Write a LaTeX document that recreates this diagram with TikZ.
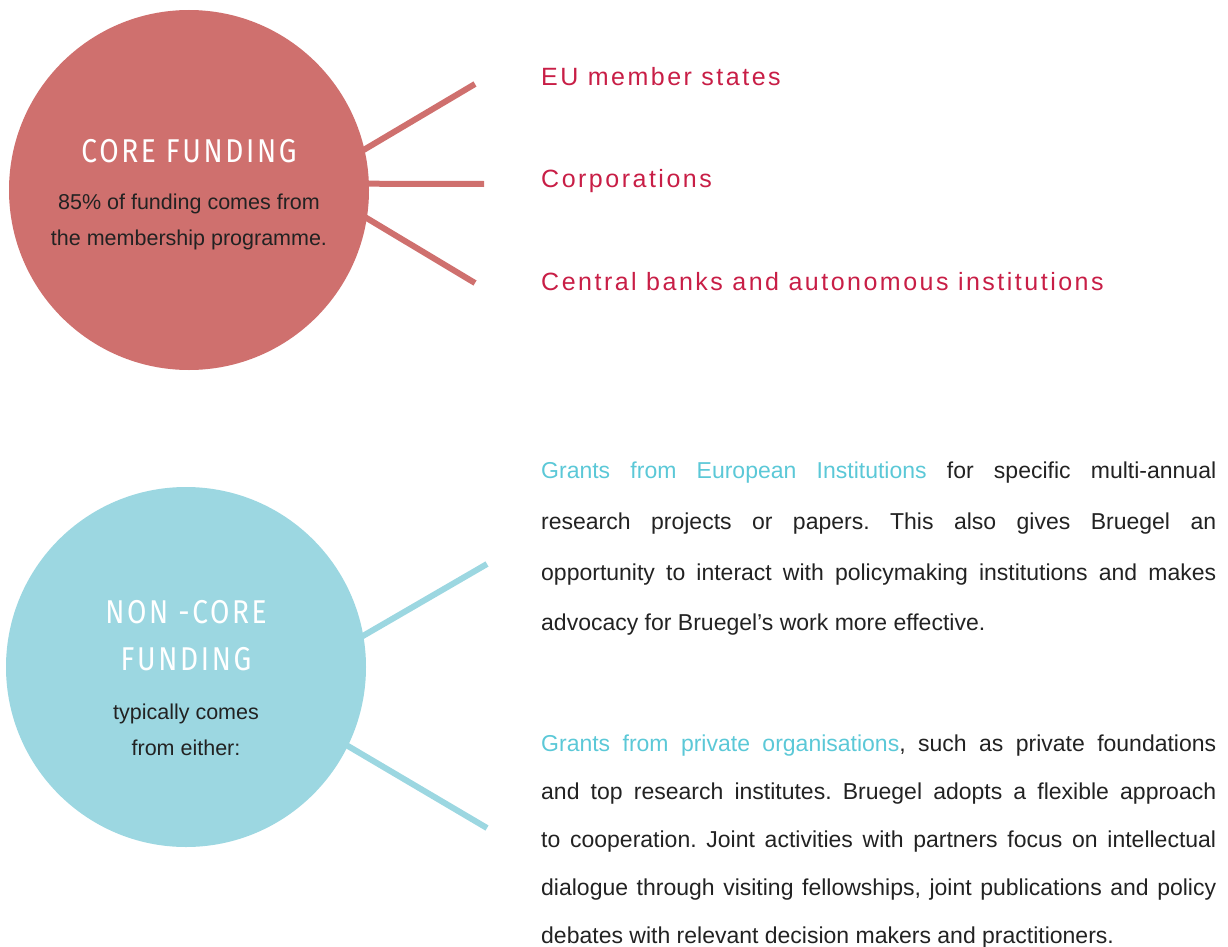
\documentclass[tikz,border=0pt]{standalone}
\usepackage{fontspec}
\setmainfont{Liberation Sans}
\newfontfamily\headfont[LetterSpace=8,FakeStretch=0.85]{Fira Sans}
\newfontfamily\listfont[LetterSpace=10]{Liberation Sans}
\newfontfamily\bodyfont{Liberation Sans}
\definecolor{corered}{RGB}{207,112,110}
\definecolor{noncoreblue}{RGB}{156,215,225}
\definecolor{listred}{RGB}{200,30,70}
\definecolor{grantblue}{RGB}{91,200,215}
\definecolor{textdark}{RGB}{34,34,34}
\begin{document}
\begin{tikzpicture}[x=1pt,y=-1pt]
	\tikzstyle{fund}=[circle,minimum size=360pt,inner sep=0pt,outer sep=0pt]
	\tikzstyle{heading}=[white,inner sep=0pt,align=center,anchor=base,font=\headfont\fontsize{33}{47}\selectfont]
	\tikzstyle{circtext}=[textdark,inner sep=0pt,align=center,anchor=base,font=\fontsize{21.5}{35.5}\selectfont]
	\tikzstyle{source}=[listred,inner sep=0pt,anchor=base west,font=\listfont\fontsize{25}{30}\selectfont]
	\tikzstyle{grant}=[textdark,inner sep=0pt,anchor=north west,text width=675pt,align=justify,font=\bodyfont\frenchspacing\fontsize{23}{50.7}\selectfont]
	\tikzstyle{edge}=[draw,line width=6pt,shorten <=-4pt]
	\useasboundingbox (0,0) rectangle (1228,947);
	% core funding
	\begin{scope}
		\node [fund,fill=corered] (core) at (189,190) {};
		\node [heading] (coretitle) at (189,162) {CORE FUNDING};
		\node [circtext] (coretext) at (189,245) {85\% of funding comes from\\the membership programme.};

		\node [source] (eu) at (541,86) {EU member states};
		\node [source] (corp) at (541,187) {Corporations};
		\node [source] (banks) at (541,290) {Central banks and autonomous institutions};

		\coordinate (euend) at (475,84);
		\coordinate (corpend) at (484,184);
		\coordinate (banksend) at (475,283);
		\path[edge,corered] (core.13.5) edge (euend);
		\path[edge,corered] (core.2) edge (corpend);
		\path[edge,corered] (core.-9.6) edge (banksend);
	\end{scope}
	% non-core funding
	\begin{scope}
		\node [fund,fill=noncoreblue] (noncore) at (186,667) {};
		\node [heading] (noncoretitle) at (186,670) {NON -CORE\\FUNDING};
		\node [circtext] (noncoretext) at (186,755) {typically comes\\from either:};

		\node [grant] (eugrant) at (541,462) {{\color{grantblue}Grants from European Institutions} for specific multi-annual\linebreak research projects or papers. This also gives Bruegel an\linebreak opportunity to interact with policymaking institutions and makes\linebreak advocacy for Bruegel’s work more effective.};
		\node [grant,font=\bodyfont\frenchspacing\fontsize{23}{48}\selectfont] (privgrant) at (541,735) {{\color{grantblue}Grants from private organisations}, such as private foundations\linebreak and top research institutes. Bruegel adopts a flexible approach\linebreak to cooperation. Joint activities with partners focus on intellectual\linebreak dialogue through visiting fellowships, joint publications and policy\linebreak debates with relevant decision makers and practitioners.};

		\coordinate (euend2) at (487,564);
		\coordinate (privend) at (487,828);
		\path[edge,noncoreblue] (noncore.10.2) edge (euend2);
		\path[edge,noncoreblue] (noncore.-26.7) edge (privend);
	\end{scope}
\end{tikzpicture}
\end{document}
